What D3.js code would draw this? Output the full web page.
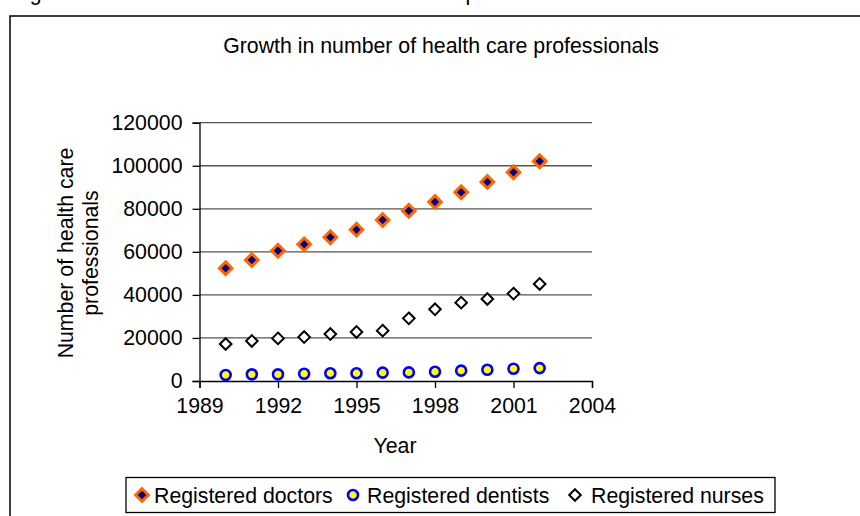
<!DOCTYPE html>
<html>
<head>
<meta charset="utf-8">
<script src="https://cdn.jsdelivr.net/npm/d3@7"></script>
<style>
  html, body { margin: 0; padding: 0; background: #fff; }
  svg { display: block; }
  text { font-family: "Liberation Sans", Arial, sans-serif; fill: #000; }
</style>
</head>
<body>
<svg id="chart" width="860" height="516"></svg>
<script>
// Registered health care professionals, by year
const years = [1990, 1991, 1992, 1993, 1994, 1995, 1996, 1997, 1998, 1999, 2000, 2001, 2002];
const doctors  = [52400, 56200, 60500, 63500, 66800, 70300, 74800, 79100, 83200, 87700, 92500, 97000, 102100];
const dentists = [2800, 3100, 3100, 3400, 3600, 3600, 3900, 4000, 4300, 4800, 5200, 5700, 6000];
const nurses   = [17200, 18600, 19800, 20400, 21800, 22800, 23400, 29100, 33300, 36400, 38100, 40600, 45100];
const xTicks = [1989, 1992, 1995, 1998, 2001, 2004];
const yTicks = [0, 20000, 40000, 60000, 80000, 100000, 120000];
const seriesNames = ["Registered doctors", "Registered dentists", "Registered nurses"];

const svg = d3.select("#chart");
const FS = 21.3;

// Figure caption (runs off the top edge) and chart frame
svg.append("text")
  .attr("x", 12).attr("y", -0.5)
  .style("font-size", FS + "px")
  .text("Figure 3.4: Growth in the number of health care professionals");

svg.append("rect")
  .attr("x", 10).attr("y", 16)
  .attr("width", 900).attr("height", 560)
  .attr("fill", "#fff").attr("stroke", "#000").attr("stroke-width", 1.5);

svg.append("text")
  .attr("x", 441).attr("y", 53)
  .attr("text-anchor", "middle")
  .style("font-size", FS + "px")
  .text("Growth in number of health care professionals");

const x = d3.scaleLinear().domain([1989, 2004]).range([199.5, 592]);
const y = d3.scaleLinear().domain([0, 120000]).range([381, 122.7]);

// Horizontal gridlines
svg.append("g")
  .selectAll("line")
  .data(yTicks.filter(d => d > 0))
  .join("line")
  .attr("x1", x(1989)).attr("x2", x(2004))
  .attr("y1", d => y(d)).attr("y2", d => y(d))
  .attr("stroke", "#555").attr("stroke-width", 1.3);

// Y axis
const yAxis = svg.append("g")
  .attr("transform", `translate(${x(1989)},0)`)
  .call(d3.axisLeft(y).tickValues(yTicks).tickFormat(d3.format("d")).tickSize(7).tickPadding(10));
yAxis.select(".domain").attr("stroke", "#000").attr("stroke-width", 1.3);
yAxis.selectAll(".tick line").attr("stroke", "#000").attr("stroke-width", 1.3);
yAxis.selectAll("text").style("font-size", FS + "px").attr("fill", "#000");

// X axis
const xAxis = svg.append("g")
  .attr("transform", `translate(0,${y(0)})`)
  .call(d3.axisBottom(x).tickValues(xTicks).tickFormat(d3.format("d")).tickSize(7).tickPadding(10));
xAxis.select(".domain").attr("stroke", "#000").attr("stroke-width", 1.3);
xAxis.selectAll(".tick line").attr("stroke", "#000").attr("stroke-width", 1.3);
xAxis.selectAll("text").style("font-size", FS + "px").attr("fill", "#000");

// Axis titles
svg.append("text")
  .attr("x", 395).attr("y", 453)
  .attr("text-anchor", "middle")
  .style("font-size", FS + "px")
  .text("Year");

const yTitle = ["Number of health care", "professionals"];
svg.append("g").selectAll("text")
  .data(yTitle)
  .join("text")
  .attr("transform", (d, i) => `translate(${73 + i * 24.5},253) rotate(-90)`)
  .attr("text-anchor", "middle")
  .style("font-size", FS + "px")
  .text(d => d);

// Marker shapes
const diamond = r => `M0,${-r}L${r},0L0,${r}L${-r},0Z`;
const styles = [
  { shape: "diamond", r: 6.3, fill: "#000080", stroke: "#ff6600", sw: 3 },
  { shape: "circle",  r: 5,   fill: "#ffff00", stroke: "#0000ff", sw: 2.6 },
  { shape: "diamond", r: 5.8, fill: "#ffffff", stroke: "#000000", sw: 2 }
];

function drawMarker(sel, st) {
  if (st.shape === "circle") {
    sel.append("circle").attr("r", st.r);
  } else {
    sel.append("path").attr("d", diamond(st.r));
  }
  sel.selectAll("circle, path")
    .attr("fill", st.fill).attr("stroke", st.stroke)
    .attr("stroke-width", st.sw).attr("stroke-linejoin", "miter");
}

const allSeries = [doctors, dentists, nurses];
// Dentists, nurses, then doctors on top
[1, 2, 0].forEach(si => {
  const g = svg.append("g");
  years.forEach((yr, i) => {
    const m = g.append("g").attr("transform", `translate(${x(yr)},${y(allSeries[si][i])})`);
    drawMarker(m, styles[si]);
  });
});

// Legend
const legend = svg.append("g");
legend.append("rect")
  .attr("x", 126).attr("y", 477.5)
  .attr("width", 649).attr("height", 35)
  .attr("fill", "#fff").attr("stroke", "#000").attr("stroke-width", 1.3);

const legendX = [142, 353, 575];
const legendTextX = [154, 367, 591];
seriesNames.forEach((name, i) => {
  const m = legend.append("g").attr("transform", `translate(${legendX[i]},495)`);
  drawMarker(m, styles[i]);
  legend.append("text")
    .attr("x", legendTextX[i]).attr("y", 503)
    .style("font-size", FS + "px")
    .text(name);
});
</script>
</body>
</html>
